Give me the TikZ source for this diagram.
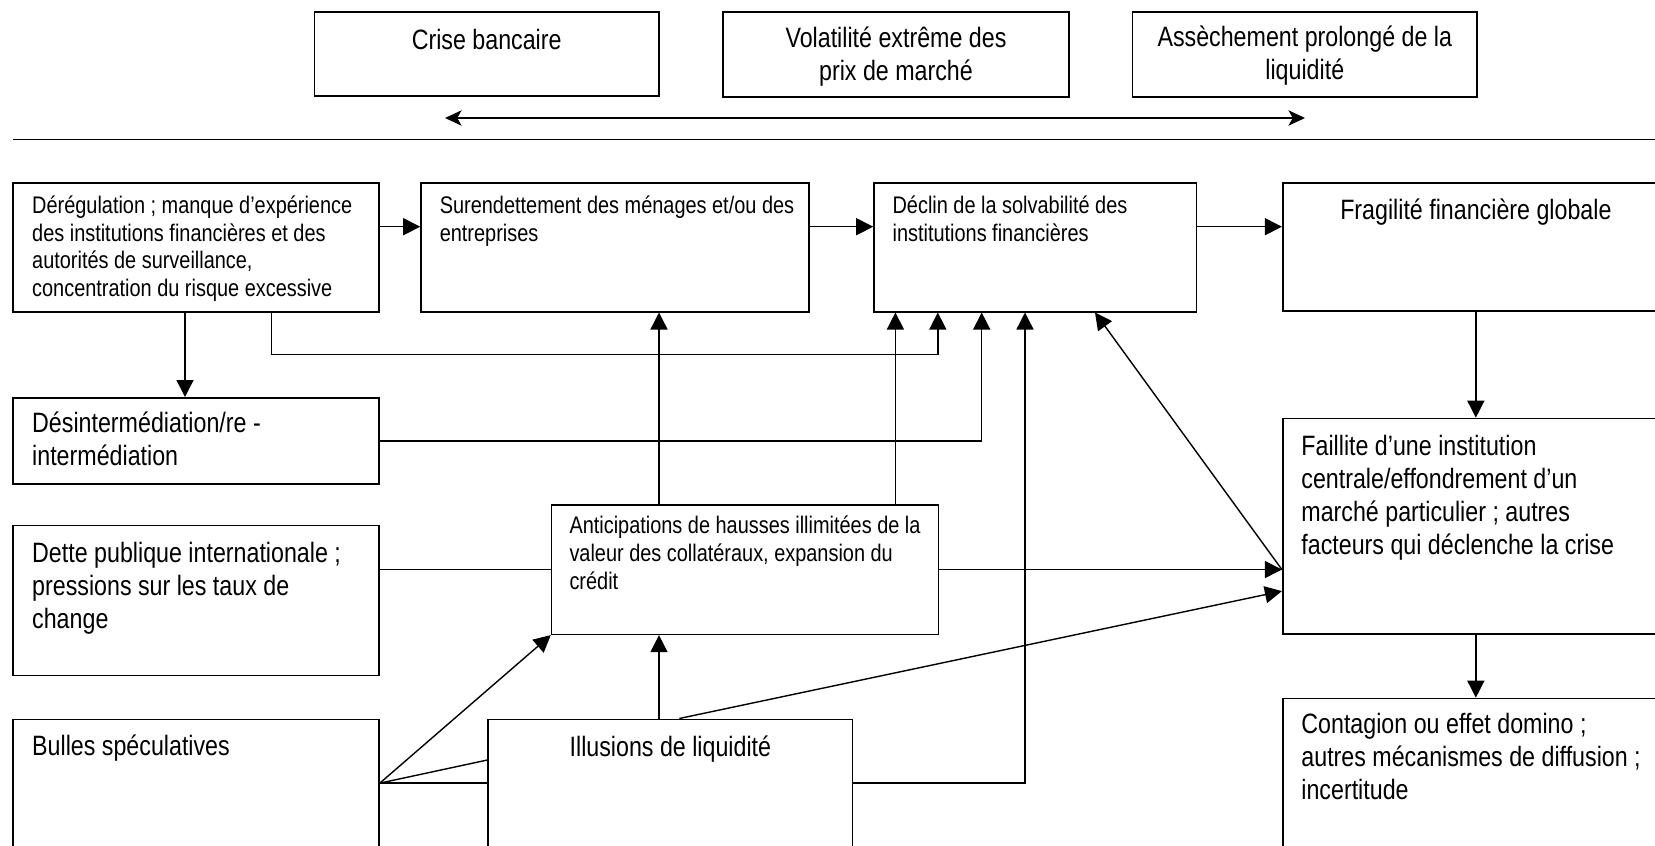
\documentclass[tikz,border=0pt]{standalone}
\usepackage{fontspec}
\setmainfont[FakeStretch=0.83]{Liberation Sans}
\usetikzlibrary{arrows.meta,fit}

\begin{document}
\begin{tikzpicture}[
    x=0.5pt, y=-0.5pt,
    box/.style={draw, line width=0.8pt, inner sep=0pt},
    smalltxt/.style={anchor=base west, inner sep=0pt, align=left, font=\fontsize{12pt}{13.9pt}\selectfont},
    bigtxt/.style={anchor=base west, inner sep=0pt, align=left, font=\fontsize{14pt}{16.5pt}\selectfont},
    midtxt/.style={anchor=base, inner sep=0pt, align=center, font=\fontsize{14pt}{16.5pt}\selectfont},
    link/.style={line width=0.7pt},
    arr/.style={link, -{Triangle[length=8.5pt,width=8.5pt]}},
    dbl/.style={link, {Stealth[length=8.3pt,width=7.7pt,inset=2.2pt]}-{Stealth[length=8.3pt,width=7.7pt,inset=2.2pt]}}
]
\useasboundingbox (0,0) rectangle (1655,846);
\clip (0,0) rectangle (1655,846);

\node[box, fit={(314.5,12) (659,96)}] (crise) {};
\node[box, fit={(722.7,12) (1069,97)}] (vola) {};
\node[box, fit={(1132.6,12) (1477,97)}] (assech) {};

\node[box, fit={(13,182.7) (379,311.7)}] (dereg) {};
\node[box, fit={(421,182.7) (809,311.7)}] (suren) {};
\node[box, fit={(874,182.7) (1196.6,311.7)}] (declin) {};
\node[box, fit={(1282.7,182.7) (1669,311)}] (fragil) {};
\node[box, fit={(13,397.8) (379,484)}] (desint) {};
\node[box, fit={(13,525.6) (379,675.6)}] (dette) {};
\node[box, fit={(551.6,504.8) (938.3,634.3)}] (antic) {};
\node[box, fit={(1282.7,418.5) (1669,634)}] (faill) {};
\node[box, fit={(13,719.3) (379,847)}] (bulles) {};
\node[box, fit={(488.2,719.3) (852.5,847)}] (illus) {};
\node[box, fit={(1282.7,698.5) (1669,870)}] (contag) {};

% base = baseline of the last line
\node[midtxt] (crise-t) at (486.7,49) {Crise bancaire};
\node[midtxt] (vola-t) at (896,80.7) {Volatilité extrême des\\prix de marché};
\node[midtxt] (assech-t) at (1304.8,79.7) {Assèchement prolongé de la\\liquidité};
\node[smalltxt] (dereg-t) at (31.8,296.7) {Dérégulation ; manque d’expérience\\des institutions financières et des\\autorités de surveillance,\\concentration du risque excessive};
\node[smalltxt] (suren-t) at (439.4,241.1) {Surendettement des ménages et/ou des\\entreprises};
\node[smalltxt] (declin-t) at (892.2,241.1) {Déclin de la solvabilité des\\institutions financières};
\node[midtxt] (fragil-t) at (1475.9,219.5) {Fragilité financière globale};
\node[bigtxt] (desint-t) at (31.8,465) {Désintermédiation/re -\\intermédiation};
\node[bigtxt] (dette-t) at (31.8,628.2) {Dette publique internationale ;\\pressions sur les taux de\\change};
\node[smalltxt] (antic-t) at (569.1,589.3) {Anticipations de hausses illimitées de la\\valeur des collatéraux, expansion du\\crédit};
\node[bigtxt] (faill-t) at (1301,554) {Faillite d’une institution\\centrale/effondrement d’un\\marché particulier ; autres\\facteurs qui déclenche la crise};
\node[bigtxt] (bulles-t) at (31.8,755.5) {Bulles spéculatives};
\node[midtxt] (illus-t) at (670.4,756) {Illusions de liquidité};
\node[bigtxt] (contag-t) at (1301,799) {Contagion ou effet domino ;\\autres mécanismes de diffusion ;\\incertitude};

\coordinate (arrL) at (445,118);
\coordinate (arrR) at (1305,118);
\coordinate (sepL) at (13,139.5);
\coordinate (sepR) at (1655,139.5);
\draw[dbl] (arrL) -- (arrR);
\draw[line width=0.9pt] (sepL) -- (sepR);

\draw[arr] (dereg.east |- 0,226.7) -- (suren.west |- 0,226.7);
\draw[arr] (suren.east |- 0,226.7) -- (declin.west |- 0,226.7);
\draw[arr] (declin.east |- 0,226.7) -- (fragil.west |- 0,226.7);
\draw[arr] (dereg.south -| 185,0) -- (desint.north -| 185,0);
\draw[arr] (dereg.south -| 271.6,0) |- (937.8,354.2) -- (declin.south -| 937.8,0);
\draw[arr] (desint.east) -| (declin.south -| 981.7,0);
\draw[arr] (antic.north -| 659,0) -- (suren.south -| 659,0);
\draw[arr] (antic.north -| 895.4,0) -- (declin.south -| 895.4,0);
\draw[arr] (illus.north -| 659,0) -- (antic.south -| 659,0);
\draw[arr] (illus.east) -| (declin.south -| 1025,0);
\draw[link] (dette.east |- antic.west) -- (antic.west);
\draw[arr] (antic.east) -- (faill.west |- antic.east);
\draw[arr] (faill.west |- antic.east) -- (declin.south -| 1095,0);
\draw[arr] (illus.north -| 679.3,0) -- (faill.west |- 0,591.1);
\draw[arr] (bulles.east) -- (antic.south west);
\draw[link] (bulles.east) -- (illus.west |- 0,760);
\draw[link] (bulles.east) -- (illus.west);
\draw[arr] (fragil.south) -- (faill.north);
\draw[arr] (faill.south) -- (contag.north);

\end{tikzpicture}
\end{document}
